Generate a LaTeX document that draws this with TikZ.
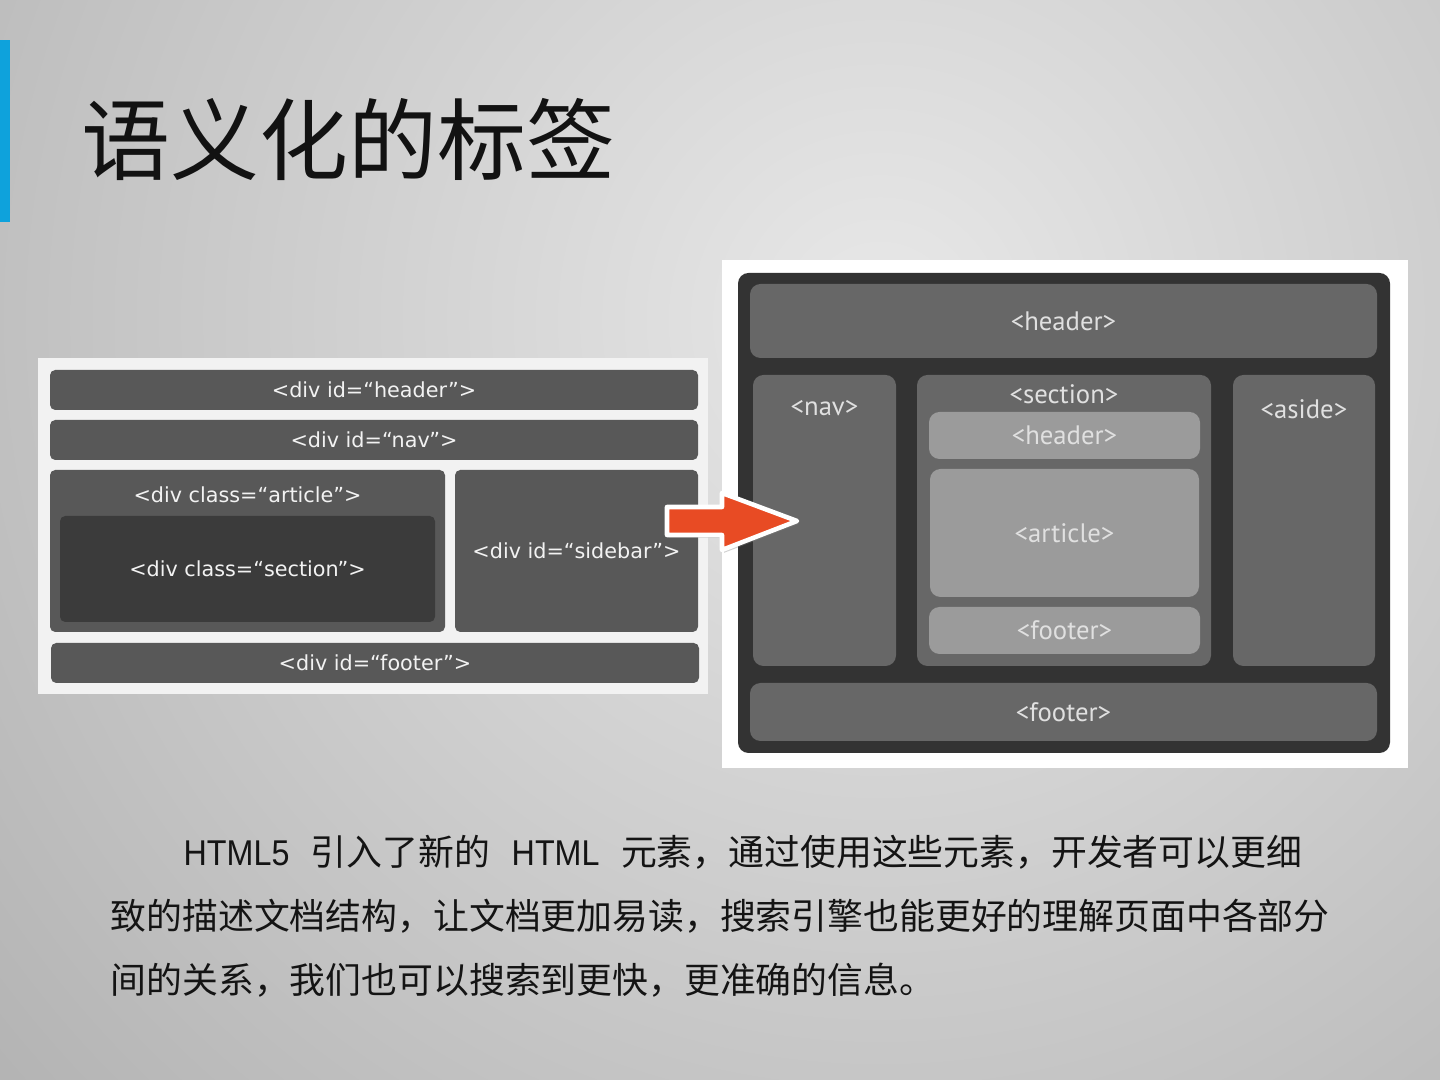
\documentclass[tikz,border=0pt]{standalone}
\usepackage{fontspec}
\setmainfont{Liberation Sans}
\newfontfamily\cjk{Noto Sans CJK SC}
\newfontfamily\lat[FakeStretch=0.9]{Liberation Sans}
\newfontfamily\divfont{DejaVu Sans}
\newfontfamily\tagfont{PT Sans}
\usetikzlibrary{positioning,shadows}

\definecolor{slidebar}{HTML}{0EA2DC}
\definecolor{divgray}{HTML}{585858}
\definecolor{divdark}{HTML}{3B3B3B}
\definecolor{frame}{HTML}{333333}
\definecolor{tagmid}{HTML}{676767}
\definecolor{taglight}{HTML}{9B9B9B}
\definecolor{arrowred}{HTML}{E84B24}

\begin{document}
\begin{tikzpicture}[
  x=1cm,y=1cm,
  divbox/.style={fill=divgray, rounded corners=1.5pt, inner sep=0pt, text=white!95!black, font=\divfont\fontsize{5.9}{6}\selectfont},
  innerdiv/.style={divbox, fill=divdark},
  tagbox/.style={fill=tagmid, rounded corners=3pt, inner sep=0pt, text=white!88!black, font=\tagfont\fontsize{7.6}{8}\selectfont},
  lightbox/.style={tagbox, fill=taglight},
  tag/.style={inner sep=0pt, text=white!88!black, font=\tagfont\fontsize{7.6}{8}\selectfont},
  divtag/.style={inner sep=0pt, text=white!95!black, font=\divfont\fontsize{5.9}{6}\selectfont},
  body/.style={inner sep=0pt, anchor=base west, text=black!92, font=\cjk\fontsize{10.2}{18}\selectfont},
  arrow/.style={fill=arrowred, draw=white, line width=1.3pt, line join=round, drop shadow={opacity=0.35, shadow xshift=0.6pt, shadow yshift=-0.8pt}}
]
\useasboundingbox (0,0) rectangle (14.4,10.8);
% slide background
\begin{scope}
\clip (0,0) rectangle (14.4,10.8);
\shade[inner color=black!9, outer color=black!32] (8.8,7.6) circle (13);
\end{scope}
\fill[slidebar] (0,10.40) rectangle (0.10,8.58);
\node[inner sep=0pt, anchor=base west, text=black!93, font=\cjk\fontsize{25.3}{28}\selectfont] (title) at (0.81,9.06) {语义化的标签};

% old layout with divs
\fill[black!5] (0.38,7.22) rectangle (7.08,3.86);
\node[divbox, minimum width=6.48cm, minimum height=0.40cm] (oldhead) at (3.74,6.90) {<div id=“header”>};
\node[divbox, minimum width=6.48cm, minimum height=0.40cm] (oldnav) at (3.74,6.40) {<div id=“nav”>};
\node[divbox, minimum width=3.95cm, minimum height=1.62cm] (oldart) at (2.475,5.29) {};
\node[divtag] at ([yshift=-2.5mm]oldart.north) {<div class=“article”>};
\node[innerdiv, minimum width=3.75cm, minimum height=1.06cm] (oldsec) at (2.475,5.11) {<div class=“section”>};
\node[divbox, minimum width=2.43cm, minimum height=1.62cm] (oldside) at (5.765,5.29) {<div id=“sidebar”>};
\node[divbox, minimum width=6.48cm, minimum height=0.40cm] (oldfoot) at (3.75,4.17) {<div id=“footer”>};

% new layout with html5 tags
\fill[white] (7.22,8.20) rectangle (14.08,3.12);
\fill[frame, rounded corners=3pt] (7.38,8.07) rectangle (13.90,3.27);
\node[tagbox, minimum width=6.27cm, minimum height=0.74cm] (head) at (10.635,7.59) {<header>};
\node[tagbox, minimum width=1.43cm, minimum height=2.91cm] (nav) at (8.245,5.595) {};
\node[tag] at ([yshift=-3.4mm]nav.north) {<nav>};
\node[tagbox, minimum width=2.94cm, minimum height=2.91cm] (sec) at (10.64,5.595) {};
\node[tag] at ([yshift=-2.0mm]sec.north) {<section>};
\node[lightbox, minimum width=2.71cm, minimum height=0.47cm] (sechead) at (10.645,6.445) {<header>};
\node[lightbox, minimum width=2.69cm, minimum height=1.28cm] (art) at (10.645,5.47) {<article>};
\node[lightbox, minimum width=2.71cm, minimum height=0.47cm] (secfoot) at (10.645,4.495) {<footer>};
\node[tagbox, minimum width=1.42cm, minimum height=2.91cm] (aside) at (13.04,5.595) {};
\node[tag] at ([yshift=-3.5mm]aside.north) {<aside>};
\node[tagbox, minimum width=6.27cm, minimum height=0.58cm] (foot) at (10.635,3.68) {<footer>};

% red arrow between the two
\draw[arrow] (6.67,5.73) -- (7.22,5.73) -- (7.22,5.87) -- (7.97,5.59) -- (7.22,5.30) -- (7.22,5.45) -- (6.67,5.45) -- cycle;

% text below
\node[body] (line1) at (1.83,2.14) {{\lat HTML5}\hspace{0.6em}引入了新的\hspace{0.6em}{\lat HTML}\hspace{0.6em}元素，通过使用这些元素，开发者可以更细};
\node[body] (line2) at (1.10,1.50) {致的描述文档结构，让文档更加易读，搜索引擎也能更好的理解页面中各部分};
\node[body] (line3) at (1.10,0.86) {间的关系，我们也可以搜索到更快，更准确的信息。};
\end{tikzpicture}
\end{document}
